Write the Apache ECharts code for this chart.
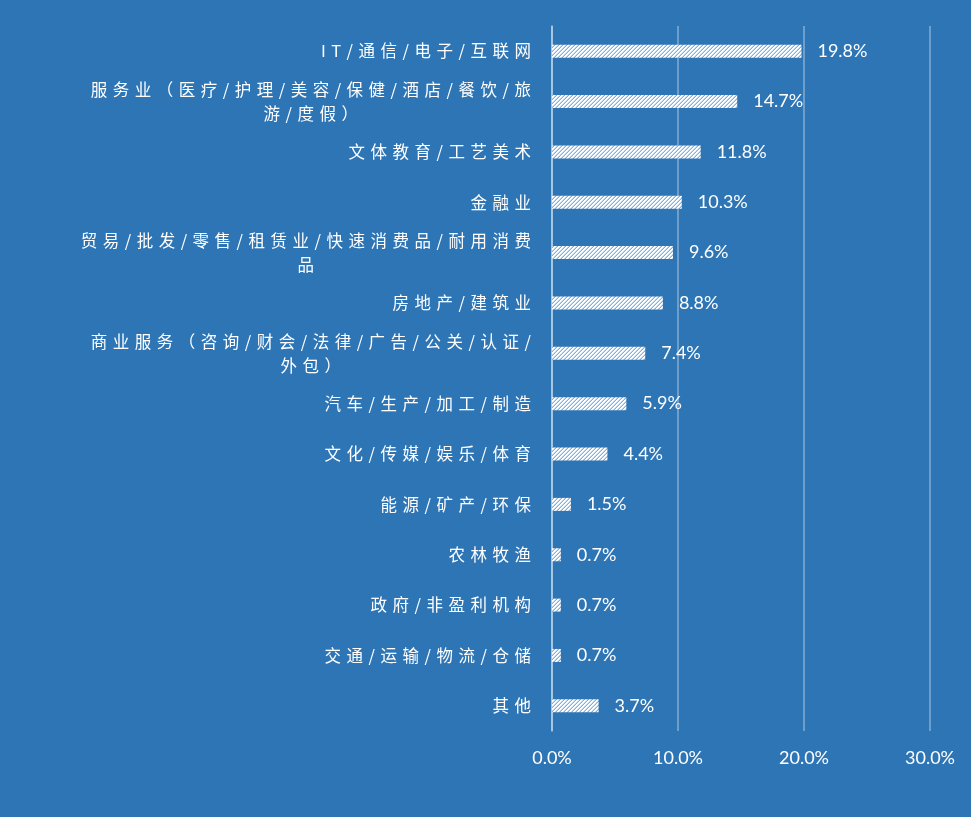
<!DOCTYPE html>
<html>
<head>
<meta charset="utf-8">
<style>
html,body{margin:0;padding:0;background:#2E75B6;}
#chart{width:971px;height:817px;}
</style>
<script src="https://cdn.jsdelivr.net/npm/echarts@6/dist/echarts.min.js"></script>
</head>
<body>
<div id="chart"></div>
<script>
var categories = [
  'IT/通信/电子/互联网',
  '服务业（医疗/护理/美容/保健/酒店/餐饮/旅\n游/度假）',
  '文体教育/工艺美术',
  '金融业',
  '贸易/批发/零售/租赁业/快速消费品/耐用消费\n品',
  '房地产/建筑业',
  '商业服务（咨询/财会/法律/广告/公关/认证/\n外包）',
  '汽车/生产/加工/制造',
  '文化/传媒/娱乐/体育',
  '能源/矿产/环保',
  '农林牧渔',
  '政府/非盈利机构',
  '交通/运输/物流/仓储',
  '其他'
];
var values = [19.8, 14.7, 11.8, 10.3, 9.6, 8.8, 7.4, 5.9, 4.4, 1.5, 0.7, 0.7, 0.7, 3.7];
var xTicks = [0, 10, 20, 30];

// hatch pattern (wide upward diagonal)
var tile = document.createElement('canvas');
tile.width = 4; tile.height = 4;
var tc = tile.getContext('2d');
tc.fillStyle = '#ffffff';
tc.fillRect(0, 0, 4, 4);
for (var px = 0; px < 4; px++) {
  for (var py = 0; py < 4; py++) {
    var k = (px + py) % 4;
    if (k === 3) { tc.fillStyle = '#86AEDD'; tc.fillRect(px, py, 1, 1); }
    else if (k === 2) { tc.fillStyle = '#C6DAF0'; tc.fillRect(px, py, 1, 1); }
  }
}

var SP = '\u2004';
function spaced(s) {
  return s.split('\n').map(function (line) {
    return '{c|' + Array.from(line).join(SP) + '}';
  }).join('\n');
}

var chart = echarts.init(document.getElementById('chart'));
chart.setOption({
  backgroundColor: '#2E75B6',
  animation: false,
  grid: { left: 552, right: 41, top: 26, bottom: 86, containLabel: false },
  xAxis: {
    type: 'value',
    min: xTicks[0],
    max: xTicks[xTicks.length - 1],
    interval: 10,
    axisLine: { show: false },
    axisTick: { show: false },
    splitLine: { show: true, lineStyle: { color: 'rgba(255,255,255,0.3)', width: 2 } },
    axisLabel: {
      color: '#ffffff',
      fontFamily: 'Lato',
      fontSize: 18,
      margin: 18,
      formatter: function (v) { return v.toFixed(1) + '%'; }
    }
  },
  yAxis: {
    type: 'category',
    inverse: true,
    data: categories,
    axisLine: { show: true, lineStyle: { color: 'rgba(255,255,255,0.55)', width: 1.5 } },
    axisTick: { show: false },
    axisLabel: {
      color: '#ffffff',
      fontFamily: 'Noto Sans CJK SC',
      fontSize: 16.5,
      margin: 21,
      lineHeight: 24,
      formatter: function (v) { return spaced(v); },
      rich: {
        c: { align: 'center', color: '#ffffff', fontFamily: 'Noto Sans CJK SC', fontSize: 16.5, lineHeight: 24 }
      }
    }
  },
  series: [{
    type: 'bar',
    data: values,
    barWidth: 13,
    itemStyle: { color: { image: tile, repeat: 'repeat' } },
    label: {
      show: true,
      position: 'right',
      distance: 16,
      color: '#ffffff',
      fontFamily: 'Lato',
      fontSize: 18,
      formatter: function (p) { return p.value.toFixed(1) + '%'; }
    }
  }]
});
</script>
</body>
</html>
